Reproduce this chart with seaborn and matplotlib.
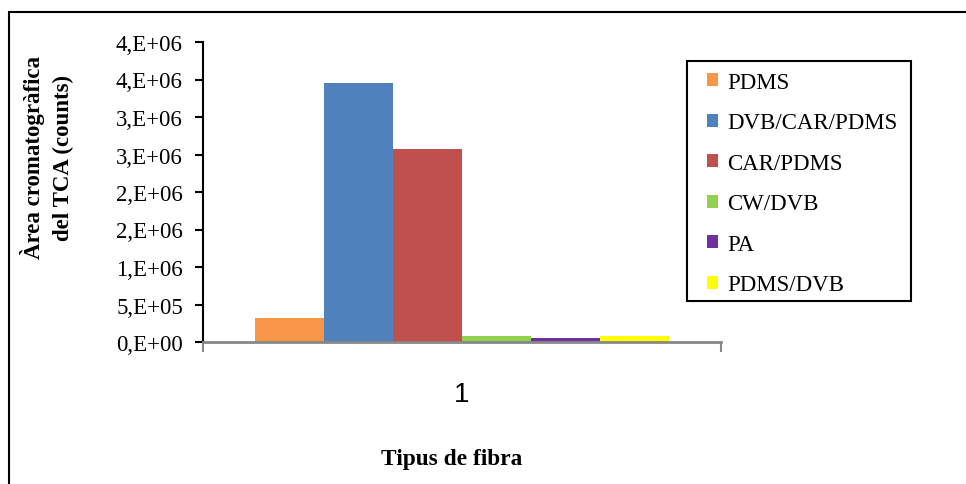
import matplotlib
matplotlib.use("Agg")
import matplotlib.pyplot as plt
import seaborn as sns
import pandas as pd
from matplotlib.patches import Rectangle

# Chromatographic TCA area by SPME fibre type
fibres = ["PDMS", "DVB/CAR/PDMS", "CAR/PDMS", "CW/DVB", "PA", "PDMS/DVB"]
areas = [3.2e5, 3.45e6, 2.57e6, 8.4e4, 5.8e4, 8.4e4]
group = ["1"] * len(fibres)
colors = ["#F79646", "#4F81BD", "#C0504D", "#92D050", "#7030A0", "#FFFF00"]

y_ticks = [0, 5e5, 1e6, 1.5e6, 2e6, 2.5e6, 3e6, 3.5e6, 4e6]
y_tick_labels = ["0,E+00", "5,E+05", "1,E+06", "2,E+06", "2,E+06",
                 "3,E+06", "3,E+06", "4,E+06", "4,E+06"]

df = pd.DataFrame({"grup": group, "fibra": fibres, "area": areas})

sns.set_theme(style="white")
plt.rcParams["font.family"] = ["Liberation Serif", "DejaVu Serif"]
plt.rcParams.update({"text.color": "black", "axes.labelcolor": "black",
                     "xtick.color": "black", "ytick.color": "black"})

W, H = 966, 485
fig = plt.figure(figsize=(W / 100, H / 100), dpi=100)
ax = fig.add_axes([203 / W, 1 - 343 / H, (721 - 203) / W, (343 - 43) / H])

sns.barplot(data=df, x="grup", y="area", hue="fibra", hue_order=fibres,
            palette=dict(zip(fibres, colors)), saturation=1, width=0.8,
            dodge=True, ax=ax, errorbar=None, legend=True, linewidth=0)

ax.set_xlim(-0.5, 0.5)
ax.set_ylim(0, 4e6)
ax.set_yticks(y_ticks)
ax.set_yticklabels(y_tick_labels, fontsize=16.5)
ax.set_xticks([0])
ax.set_xticklabels(["1"], fontsize=20, family="Liberation Sans")
ax.tick_params(axis="x", which="major", length=0, pad=28, bottom=True,
               labelcolor="black")
ax.set_xticks([-0.5, 0.5], minor=True)
ax.tick_params(axis="x", which="minor", direction="out", length=7,
               width=1.5, color="#888888", bottom=True)
ax.tick_params(axis="y", direction="out", length=6, width=1.5,
               color="black", labelcolor="black", left=True, pad=8.5)
ax.set_xlabel("")
ax.set_ylabel("")

for side in ["top", "right"]:
    ax.spines[side].set_visible(False)
ax.spines["left"].set_color("black")
ax.spines["left"].set_linewidth(1.5)
ax.spines["bottom"].set_color("#888888")
ax.spines["bottom"].set_linewidth(2)

# legend entries, with a separately drawn box around them
handles, labels = ax.get_legend_handles_labels()
leg = ax.legend(handles, labels, loc="upper left",
                bbox_to_anchor=(707 / W, 1 - 73 / H),
                bbox_transform=fig.transFigure,
                fontsize=16.5, frameon=False, handlelength=0.5,
                handleheight=0.5, handletextpad=0.4, labelspacing=0.85,
                borderpad=0, borderaxespad=0, labelcolor="black")
fig.patches.append(Rectangle((687 / W, 1 - 302 / H), (911 - 687) / W,
                             (302 - 62) / H, transform=fig.transFigure,
                             fill=False, edgecolor="black", linewidth=1.5))

fig.text(47 / W, 1 - 158 / H, "Àrea cromatogràfica\ndel TCA (counts)",
         rotation=90, ha="center", va="center", fontsize=16.5,
         fontweight="bold", multialignment="center", linespacing=1.45,
         color="black")
fig.text(452 / W, 1 - 460 / H, "Tipus de fibra", ha="center", va="center",
         fontsize=16.8, fontweight="bold", color="black")

fig.patches.append(Rectangle((9 / W, -0.1), 1.2, 1 - 13 / H + 0.1,
                             transform=fig.transFigure, fill=False,
                             edgecolor="black", linewidth=1.5))

fig.savefig("out.png", dpi=100)
